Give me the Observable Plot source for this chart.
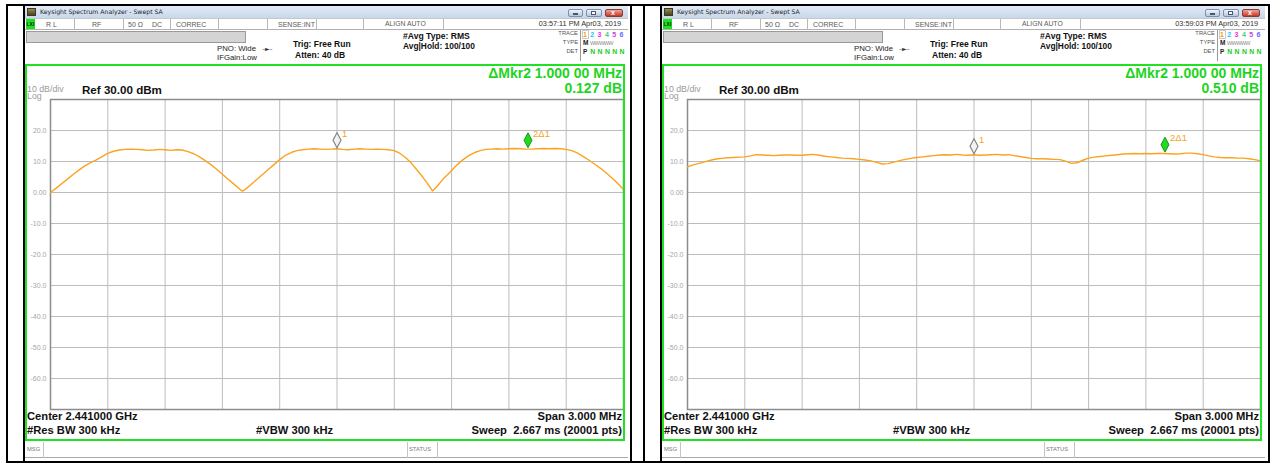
<!DOCTYPE html>
<html><head><meta charset="utf-8">
<script src="https://cdn.jsdelivr.net/npm/d3@7"></script>
<script src="https://cdn.jsdelivr.net/npm/@observablehq/plot@0.6"></script>
<style>
body{margin:0;background:#fff;width:1281px;height:465px;overflow:hidden;font-family:"Liberation Sans",Arial,sans-serif;}
#root{position:relative;width:1281px;height:465px;overflow:hidden;}
.a{position:absolute;white-space:nowrap;line-height:1;}
</style></head><body><div id="root"></div>
<script>
// ---------- data (MHz, dBm) ----------
const leftFreq = [2439.50,2439.53,2439.56,2439.59,2439.62,2439.65,2439.68,2439.71,2439.74,2439.77,2439.80,2439.83,2439.86,2439.89,2439.92,2439.95,2439.98,2440.01,2440.04,2440.07,2440.10,2440.13,2440.16,2440.19,2440.22,2440.25,2440.28,2440.31,2440.34,2440.37,2440.40,2440.43,2440.46,2440.49,2440.505,2440.52,2440.55,2440.58,2440.61,2440.64,2440.67,2440.70,2440.73,2440.76,2440.79,2440.82,2440.85,2440.88,2440.91,2440.94,2440.97,2441.00,2441.03,2441.06,2441.09,2441.12,2441.15,2441.18,2441.21,2441.24,2441.27,2441.30,2441.33,2441.36,2441.39,2441.42,2441.45,2441.48,2441.50,2441.525,2441.555,2441.60,2441.63,2441.66,2441.69,2441.72,2441.75,2441.78,2441.81,2441.84,2441.87,2441.90,2441.93,2441.96,2441.99,2442.02,2442.05,2442.08,2442.11,2442.14,2442.17,2442.20,2442.23,2442.26,2442.29,2442.32,2442.35,2442.38,2442.41,2442.44,2442.47,2442.50];
const leftLevel = [0.0,1.4,2.9,4.4,5.9,7.3,8.6,9.6,10.5,11.6,12.6,13.3,13.7,13.9,14.0,13.9,13.8,13.6,13.7,13.9,13.8,13.6,13.8,13.7,13.2,12.5,11.5,10.3,9.0,7.5,5.9,4.3,2.7,1.1,0.4,1.0,2.6,4.2,5.8,7.4,9.0,10.6,12.0,12.9,13.5,13.8,14.0,14.1,14.0,13.9,14.0,14.1,13.9,13.8,14.0,14.1,14.0,13.9,14.0,13.9,13.8,13.5,12.6,11.2,9.4,7.2,4.9,2.4,0.5,2.0,4.3,7.1,9.0,10.6,11.9,12.9,13.5,13.9,14.0,14.1,14.0,14.1,14.2,14.1,14.0,14.0,14.1,14.2,14.1,14.2,14.1,13.9,13.5,12.7,11.6,10.4,9.1,7.8,6.3,4.7,2.9,1.0];
const rightLevel = [8.3,8.9,9.4,9.9,10.4,10.8,11.0,11.2,11.3,11.4,11.5,11.8,12.2,12.1,12.0,11.9,12.0,12.1,12.1,12.0,12.0,12.2,12.3,12.0,11.7,11.5,11.3,11.1,11.0,10.9,10.7,10.5,10.2,9.7,9.2,9.3,9.8,10.3,10.7,11.0,11.3,11.5,11.7,11.9,12.1,12.2,12.1,12.3,12.1,12.0,12.2,12.0,12.1,12.2,12.3,12.1,12.2,11.9,11.6,11.3,11.0,10.9,10.9,10.8,10.7,10.6,10.1,9.4,9.6,10.4,11.1,11.4,11.6,11.8,12.0,12.2,12.4,12.5,12.6,12.5,12.6,12.5,12.6,12.6,12.5,12.4,12.5,12.7,12.7,12.5,12.2,11.8,11.5,11.3,11.2,11.2,11.1,11.1,10.9,10.6,10.2];
const rightFreq = rightLevel.map((_, i) => 2439.5 + i * 0.03); // uniform sweep points
const markerFreq = [2441.0, 2442.0];
const markerLabel = ["1", "2\u03941"];
const leftMarkerLevel = [14.1, 14.1];
const rightMarkerLevel = [12.2, 12.7];
const xGrid = [2439.5,2439.8,2440.1,2440.4,2440.7,2441.0,2441.3,2441.6,2441.9,2442.2,2442.5];
const yGrid = [30,20,10,0,-10,-20,-30,-40,-50,-60,-70];
const yTicks = [20,10,0,-10,-20,-30,-40,-50,-60];
const yTickLabels = ["20.0","10.0","0.00","-10.0","-20.0","-30.0","-40.0","-50.0","-60.0"];

const root = document.getElementById('root');
function box(x,y,w,h,css){const d=document.createElement('div');d.style.cssText=`position:absolute;left:${x}px;top:${y}px;width:${w}px;height:${h}px;box-sizing:border-box;`+(css||'');root.appendChild(d);return d;}
function txt(x,cy,size,s,css,anchor){const d=document.createElement('div');d.className='a';d.textContent=s;d.style.fontSize=size+'px';d.style.top=(cy-size*0.5)+'px';if(anchor==='end'){d.style.right=(1281-x)+'px';}else{d.style.left=x+'px';}if(css)d.style.cssText+=css;root.appendChild(d);return d;}

const tallDiamond = {draw(ctx){ctx.moveTo(0,0);ctx.lineTo(4,-7.5);ctx.lineTo(0,-15);ctx.lineTo(-4,-7.5);ctx.closePath();}};

function chart(freq, level, mkLevel){
  const data = freq.map((f,i)=>({f, v: level[i]}));
  const mk = markerFreq.map((f,i)=>({f, v: mkLevel[i], label: markerLabel[i]}));
  const ticks = yTicks.map((v,i)=>({v, label: yTickLabels[i]}));
  return Plot.plot({
    width: 602, height: 318, marginLeft: 25, marginRight: 4, marginTop: 4, marginBottom: 4,
    x: {domain: [2439.5, 2442.5], axis: null},
    y: {domain: [-70, 30], axis: null},
    style: {background: "transparent", fontFamily: "Liberation Sans, Arial, sans-serif", overflow: "visible"},
    marks: [
      Plot.ruleX(xGrid, {stroke: "#bcbcbc", strokeWidth: 1}),
      Plot.ruleY(yGrid, {stroke: "#bcbcbc", strokeWidth: 1}),
      Plot.frame({stroke: "#8c8c8c", strokeWidth: 1.5}),
      Plot.text(ticks, {x: () => 2439.5, y: "v", text: "label", textAnchor: "end", dx: -4, fill: "#a6a6a6", fontSize: 7}),
      Plot.line(data, {x: "f", y: "v", stroke: "#fba31f", strokeWidth: 1.4}),
      Plot.dot([mk[0]], {x: "f", y: "v", symbol: tallDiamond, fill: "#f2f2f2", stroke: "#858585", strokeWidth: 1.2, dy: -1}),
      Plot.dot([mk[1]], {x: "f", y: "v", symbol: tallDiamond, fill: "#1fdc1f", stroke: "#0d7a0d", strokeWidth: 0.8, dy: -1}),
      Plot.text(mk, {x: "f", y: "v", text: "label", textAnchor: "start", dx: 5, dy: -15, fill: "#f6a524", fontSize: 9.5})
    ]
  });
}

const panels = [
  {o: 0, time: "03:57:11 PM Apr03, 2019", delta: "0.127 dB", freq: leftFreq, level: leftLevel, mk: leftMarkerLevel},
  {o: 637, time: "03:59:03 PM Apr03, 2019", delta: "0.510 dB", freq: rightFreq, level: rightLevel, mk: rightMarkerLevel}
];

// outer table lines
box(6,4,1264,2,'background:#000;');
box(6,461,1264,2,'background:#000;');
[6,630,643,1268].forEach(x=>box(x,4,2,459,'background:#000;'));

panels.forEach(p=>{
  const o = p.o;
  box(23+o,4,2,459,'background:#000;');
  // title bar
  box(25+o,6,603,12,'background:linear-gradient(#e2ebf6,#c8d7eb);');
  box(27+o,8,9,8,'background:linear-gradient(#9a8a48,#4a4224);border:1px solid #3a3a2a;');
  txt(40+o,12,6.8,'Keysight Spectrum Analyzer - Swept SA','color:#1b1b1b;font-family:"DejaVu Sans",sans-serif;font-size:6.2px;');
  const btn='background:linear-gradient(#f1f5fb,#b7c7df);border:1px solid #7d8fae;border-radius:2px;';
  box(568+o,9,15,8,btn);
  box(586+o,9,16,8,btn);
  box(605+o,9,18,8,'background:linear-gradient(#eea597,#c4392a);border:1px solid #8b3a30;border-radius:2px;');
  box(573+o,13,5,2,'background:#fff;border:1px solid #4a5670;');
  box(591+o,11,5,4,'border:1px solid #4a5670;background:#fff;');
  txt(611+o,12.5,7,'x','color:#fff;font-weight:bold;');
  // status row
  box(25+o,18,603,12,'background:#fff;border-top:1px solid #c8c8c8;border-bottom:1px solid #b0b0b0;');
  box(26+o,19,9,10,'background:#1fe01f;');
  txt(26.5+o,24,5,'LXI','color:#0a300a;font-weight:bold;');
  [74,123,170,218,267,316,363,443].forEach(x=>box(x+o,19,1,11,'background:#b8b8b8;'));
  const sc='color:#5a5a5a;';
  txt(46+o,24,7,'R L',sc);
  txt(92+o,24,7,'RF',sc);
  txt(128+o,24,7,'50 \u03A9',sc);
  txt(152+o,24,7,'DC',sc);
  txt(176+o,24,7,'CORREC',sc);
  txt(278+o,24,7,'SENSE:INT',sc);
  txt(385+o,24,6.8,'ALIGN AUTO',sc);
  txt(621+o,24,7.3,p.time,'color:#333;','end');
  // gray bar
  box(26+o,31,220,12,'background:#d4d4d4;border:1px solid #9a9a9a;');
  // settings
  txt(217+o,49,7.8,'PNO: Wide','color:#222;');
  txt(217+o,58,7.8,'IFGain:Low','color:#222;');
  txt(262+o,49,6,'\u2013\u25BA\u2013','color:#333;font-family:"DejaVu Sans",sans-serif;');
  txt(293+o,44,8.5,'Trig: Free Run','color:#111;font-weight:bold;');
  txt(295+o,55,8.5,'Atten: 40 dB','color:#111;font-weight:bold;');
  txt(403+o,36.5,8.6,'#Avg Type: RMS','color:#111;font-weight:bold;');
  txt(403+o,46,8.4,'Avg|Hold: 100/100','color:#111;font-weight:bold;');
  // trace table
  txt(578+o,34,5.8,'TRACE','color:#555;','end');
  txt(578+o,43,5.8,'TYPE','color:#555;','end');
  txt(578+o,52,5.8,'DET','color:#555;','end');
  box(580+o,30,1,31,'background:#9a9a9a;');
  const tc=['#f0a000','#22c6ee','#ee33ee','#44cc88','#cc44cc','#6666ff'];
  tc.forEach((c,i)=>txt(583+o+i*7.3,34.5,7,String(i+1),'color:'+c+';font-weight:bold;'));
  box(581.5+o,30,7,9,'border:1px solid #c9c9c9;');
  txt(583+o,43.5,6.5,'M','color:#222;font-weight:bold;');
  txt(590+o,43.5,5.5,'WWWWW','color:#8a8a8a;letter-spacing:-0.6px;');
  txt(583+o,52.5,6.5,'P','color:#222;font-weight:bold;');
  tc.slice(1).forEach((c,i)=>txt(590.3+o+i*7.3,52.5,6.8,'N','color:#22cc22;font-weight:bold;'));
  // chart
  const svg = chart(p.freq, p.level, p.mk);
  svg.style.position='absolute'; svg.style.left=(25+o)+'px'; svg.style.top='95px';
  root.appendChild(svg);
  // green frame
  box(25+o,64,600,377,'border:2px solid #22e022;');
  txt(622+o,72.5,14,'\u0394Mkr2 1.000 00 MHz','color:#1ed41e;font-weight:bold;','end');
  txt(622+o,87.5,14,p.delta,'color:#1ed41e;font-weight:bold;','end');
  txt(27+o,89,8.8,'10 dB/div','color:#9a9a9a;');
  txt(27+o,96.5,8.8,'Log','color:#9a9a9a;');
  txt(82+o,89.5,11.6,'Ref 30.00 dBm','color:#111;font-weight:bold;');
  txt(27+o,416.5,11.2,'Center 2.441000 GHz','color:#111;font-weight:bold;');
  txt(27+o,430.5,11.2,'#Res BW 300 kHz','color:#111;font-weight:bold;');
  txt(256+o,430.5,11.2,'#VBW 300 kHz','color:#111;font-weight:bold;');
  txt(622+o,416.5,11.2,'Span 3.000 MHz','color:#111;font-weight:bold;','end');
  txt(622+o,430.5,11.2,'Sweep  2.667 ms (20001 pts)','color:#111;font-weight:bold;white-space:pre;','end');
  // msg row
  box(25+o,442,603,16,'border-bottom:1px solid #a8a8a8;');
  [43,407,437].forEach(x=>box(x+o,442,1,16,'background:#c4c4c4;'));
  txt(27+o,449.5,5.8,'MSG','color:#7a7a7a;');
  txt(409+o,449.5,5.8,'STATUS','color:#7a7a7a;');
});
</script></body></html>
